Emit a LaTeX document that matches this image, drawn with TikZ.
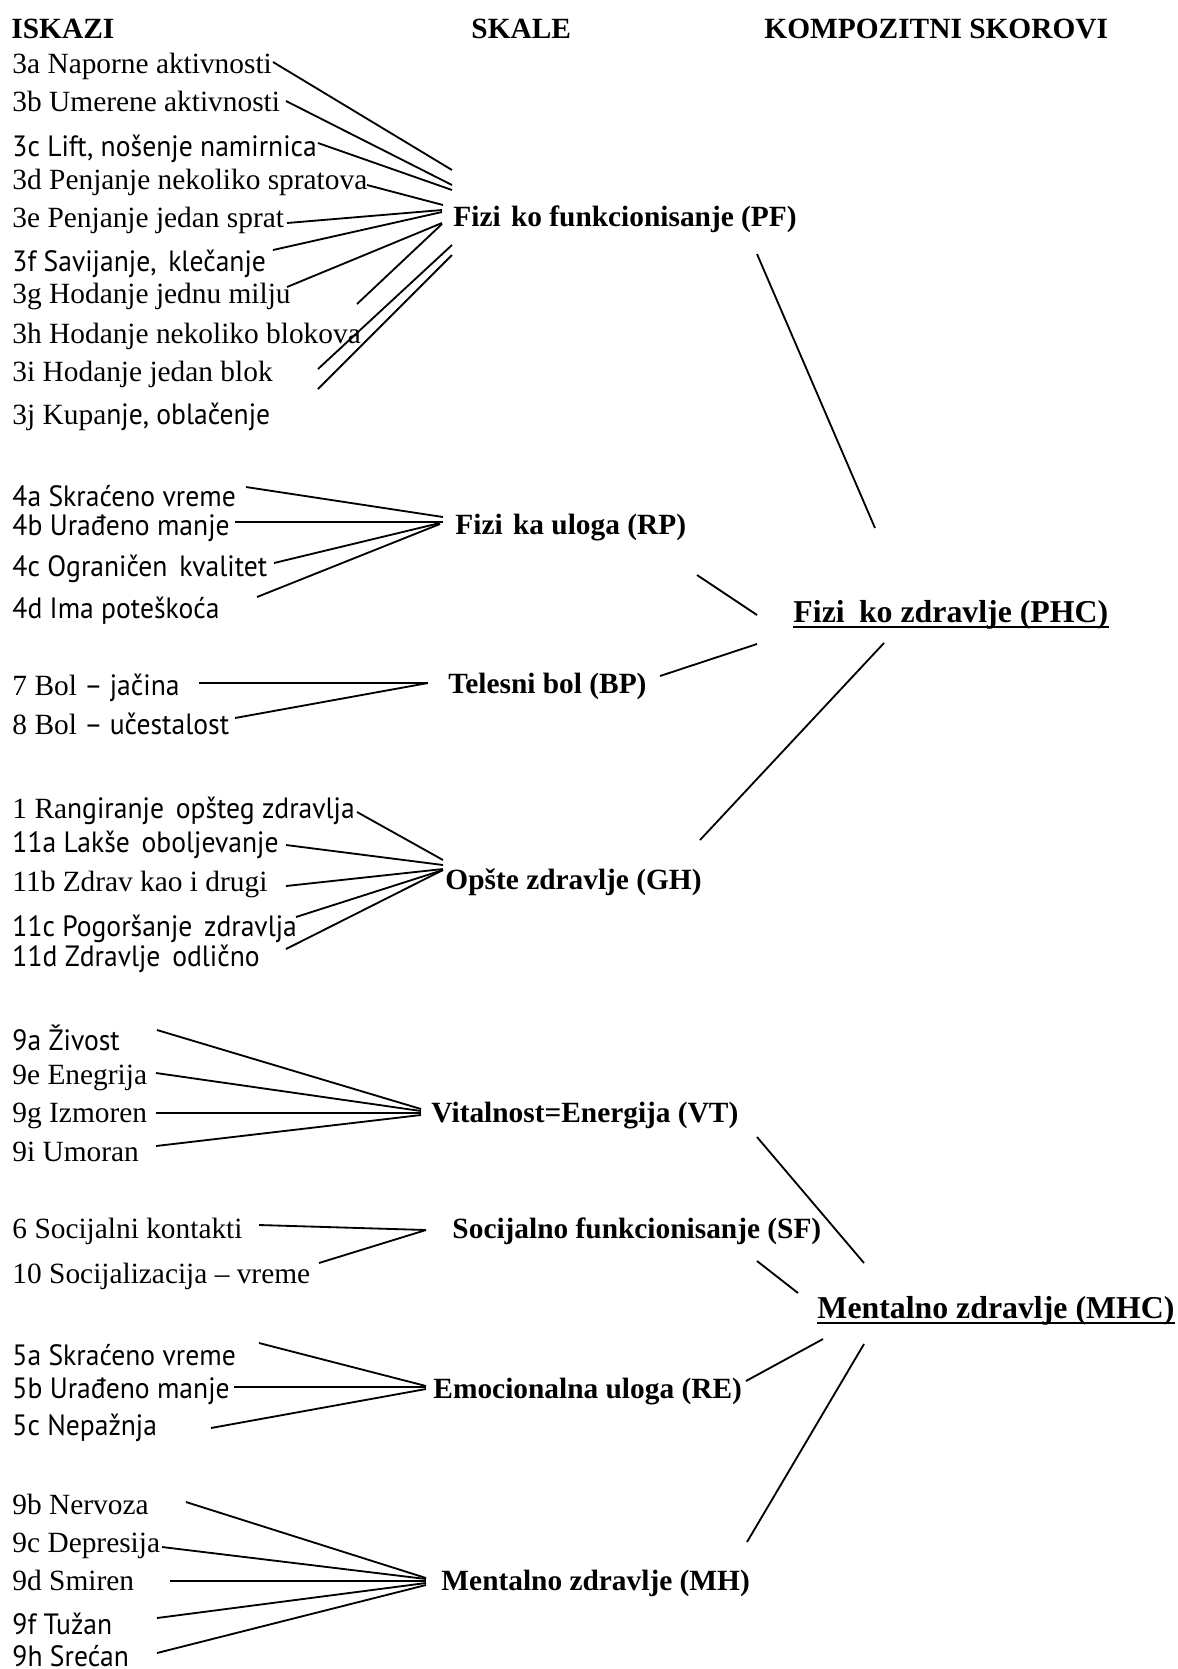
\documentclass[tikz,border=0pt]{standalone}
\usepackage{fontspec}
\setmainfont{Liberation Serif}
\newfontfamily\sn[FakeStretch=0.94]{PT Sans}
\newcommand\sv[1]{{\sn #1}}
\newcommand\wsp{\hspace{0.4em}}
\begin{document}
\begin{tikzpicture}[x={(0.4086pt,0)}, y={(0,-0.4086pt)}]
\tikzset{
  item/.style={anchor=base west, inner sep=0pt, yshift=-0.8pt, font=\fontsize{12}{14}\selectfont},
  sclab/.style={anchor=base west, inner sep=0pt, yshift=-0.8pt, font=\fontsize{12}{14}\selectfont\bfseries},
  comp/.style={anchor=base west, inner sep=0pt, font=\fontsize{13}{15}\selectfont\bfseries},
  conn/.style={line width=0.75pt},
  uline/.style={line width=1.1pt}
}
\fill[white] (0,0) rectangle (1177,1669);
\useasboundingbox (0,0) rectangle (1177,1669);

% headers
\node[sclab] (h1) at (11,37) {ISKAZI};
\node[sclab] (h2) at (471,37) {SKALE};
\node[sclab] (h3) at (764,37) {KOMPOZITNI SKOROVI};

% ---------- PF ----------
\node[item] (i3a) at (12,72) {3a Naporne aktivnosti};
\node[item] (i3b) at (12,110) {3b Umerene aktivnosti};
\node[item] (i3c) at (12,155) {\sv{3c Lift, nošenje namirnica}};
\node[item] (i3d) at (12,188) {3d Penjanje nekoliko spratova};
\node[item] (i3e) at (12,226) {3e Penjanje jedan sprat};
\node[item] (i3f) at (12,270) {\sv{3f Savijanje,\wsp klečanje}};
\node[item] (i3g) at (12,302) {3g Hodanje jednu milju};
\node[item] (i3h) at (12,342) {3h Hodanje nekoliko blokova};
\node[item] (i3i) at (12,380) {3i Hodanje jedan blok};
\node[item] (i3j) at (12,423) {3j Kupa\sv{nje, oblačenje}};
\node[sclab] (pf) at (453,225) {Fizi\hspace{0.35em}ko funkcionisanje (PF)};

\coordinate (a3a) at (273,62);  \coordinate (b3a) at (452,170);
\coordinate (a3b) at (286,101); \coordinate (b3b) at (452,185);
\coordinate (a3c) at (318,143); \coordinate (b3c) at (452,190);
\coordinate (a3d) at (367,185); \coordinate (b3d) at (443,205);
\coordinate (a3e) at (287,223); \coordinate (b3e) at (442,210);
\coordinate (a3f) at (273,250); \coordinate (b3f) at (442,212);
\coordinate (a3g) at (287,287); \coordinate (b3g) at (442,223);
\coordinate (a3h) at (357,304); \coordinate (b3h) at (442,224);
\coordinate (a3i) at (318,369); \coordinate (b3i) at (452,245);
\coordinate (a3j) at (318,389); \coordinate (b3j) at (452,255);
\foreach \k in {3a,3b,3c,3d,3e,3f,3g,3h,3i,3j} \draw[conn] (a\k) -- (b\k);

% ---------- RP ----------
\node[item] (i4a) at (12,505) {\sv{4a Skraćeno vreme}};
\node[item] (i4b) at (12,534) {\sv{4b Urađeno manje}};
\node[item] (i4c) at (12,575) {\sv{4c Ograničen\wsp kvalitet}};
\node[item] (i4d) at (12,617) {\sv{4d Ima poteškoća}};
\node[sclab] (rp) at (455,533) {Fizi\hspace{0.35em}ka uloga (RP)};
\coordinate (a4a) at (246,487); \coordinate (b4a) at (443,517);
\coordinate (a4b) at (235,522); \coordinate (b4b) at (443,522);
\coordinate (a4c) at (274,563); \coordinate (b4c) at (440,523);
\coordinate (a4d) at (257,597); \coordinate (b4d) at (440,524);
\foreach \k in {4a,4b,4c,4d} \draw[conn] (a\k) -- (b\k);

% ---------- BP ----------
\node[item] (i7) at (12,694) {7 Bol \sv{– jačina}};
\node[item] (i8) at (12,733) {8 Bol \sv{– učestalost}};
\node[sclab] (bp) at (448,692) {Telesni bol (BP)};
\coordinate (a7) at (199,683); \coordinate (b7) at (428,683);
\coordinate (a8) at (235,718); \coordinate (b8) at (428,683);
\foreach \k in {7,8} \draw[conn] (a\k) -- (b\k);

% ---------- GH ----------
\node[item] (i1) at (12,817) {1 Ra\sv{ngiranje\wsp opšteg zdravlja}};
\node[item] (i11a) at (12,851) {\sv{11a Lakše\wsp oboljevanje}};
\node[item] (i11b) at (12,890) {11b Zdrav kao i drugi};
\node[item] (i11c) at (12,935) {\sv{11c Pogoršanje\wsp zdravlja}};
\node[item] (i11d) at (12,965) {\sv{11d Zdravlje\wsp odlično}};
\node[sclab] (gh) at (445,888) {Opšte zdravlje (GH)};
\coordinate (a1) at (357,812);   \coordinate (b1) at (443,860);
\coordinate (a11a) at (286,845); \coordinate (b11a) at (443,865);
\coordinate (a11b) at (286,886); \coordinate (b11b) at (443,869);
\coordinate (a11c) at (296,917); \coordinate (b11c) at (443,870);
\coordinate (a11d) at (286,949); \coordinate (b11d) at (443,870);
\foreach \k in {1,11a,11b,11c,11d} \draw[conn] (a\k) -- (b\k);

% ---------- PHC ----------
\node[comp] (phc) at (793,622) {Fizi\hspace{0.45em}ko zdravlje (PHC)};
\draw[uline] ([yshift=-2pt]phc.base west) -- ([yshift=-2pt]phc.base east);
\coordinate (pfo) at (757,254); \coordinate (phi1) at (875,528);
\coordinate (rpo) at (697,575); \coordinate (phi2) at (757,615);
\coordinate (bpo) at (660,676); \coordinate (phi3) at (757,644);
\coordinate (gho) at (700,840); \coordinate (phi4) at (884,643);
\draw[conn] (pfo) -- (phi1);
\draw[conn] (rpo) -- (phi2);
\draw[conn] (bpo) -- (phi3);
\draw[conn] (gho) -- (phi4);

% ---------- VT ----------
\node[item] (i9a) at (12,1049) {\sv{9a Živost}};
\node[item] (i9e) at (12,1083) {9e Enegrija};
\node[item] (i9g) at (12,1121) {9g Izmoren};
\node[item] (i9i) at (12,1160) {9i Umoran};
\node[sclab] (vt) at (431,1121) {Vitalnost=Energija (VT)};
\coordinate (a9a) at (157,1030); \coordinate (b9a) at (421,1109);
\coordinate (a9e) at (156,1073); \coordinate (b9e) at (421,1111);
\coordinate (a9g) at (156,1113); \coordinate (b9g) at (421,1113);
\coordinate (a9i) at (156,1146); \coordinate (b9i) at (421,1115);
\foreach \k in {9a,9e,9g,9i} \draw[conn] (a\k) -- (b\k);

% ---------- SF ----------
\node[item] (i6) at (12,1237) {6 Socijalni kontakti};
\node[item] (i10) at (12,1282) {10 Socijalizacija – vreme};
\node[sclab] (sf) at (452,1237) {Socijalno funkcionisanje (SF)};
\coordinate (a6) at (259,1225);  \coordinate (b6) at (426,1230);
\coordinate (a10) at (319,1263); \coordinate (b10) at (426,1230);
\foreach \k in {6,10} \draw[conn] (a\k) -- (b\k);

% ---------- RE ----------
\node[item] (i5a) at (12,1364) {\sv{5a Skraćeno vreme}};
\node[item] (i5b) at (12,1397) {\sv{5b Urađeno manje}};
\node[item] (i5c) at (12,1434) {\sv{5c Nepažnja}};
\node[sclab] (re) at (433,1397) {Emocionalna uloga (RE)};
\coordinate (a5a) at (259,1343); \coordinate (b5a) at (426,1386);
\coordinate (a5b) at (234,1387); \coordinate (b5b) at (426,1387);
\coordinate (a5c) at (211,1428); \coordinate (b5c) at (426,1389);
\foreach \k in {5a,5b,5c} \draw[conn] (a\k) -- (b\k);

% ---------- MH ----------
\node[item] (i9b) at (12,1513) {9b Nervoza};
\node[item] (i9c) at (12,1551) {9c Depresija};
\node[item] (i9d) at (12,1589) {9d Smiren};
\node[item] (i9f) at (12,1633) {\sv{9f Tužan}};
\node[item] (i9h) at (12,1665) {\sv{9h Srećan}};
\node[sclab] (mh) at (441,1589) {Mentalno zdravlje (MH)};
\coordinate (a9b) at (186,1502); \coordinate (b9b) at (426,1578);
\coordinate (a9c) at (162,1547); \coordinate (b9c) at (426,1579);
\coordinate (a9d) at (170,1581); \coordinate (b9d) at (426,1581);
\coordinate (a9f) at (157,1618); \coordinate (b9f) at (426,1583);
\coordinate (a9h) at (157,1653); \coordinate (b9h) at (426,1585);
\foreach \k in {9b,9c,9d,9f,9h} \draw[conn] (a\k) -- (b\k);

% ---------- MHC ----------
\node[comp] (mhc) at (817,1318) {Mentalno zdravlje (MHC)};
\draw[uline] ([yshift=-2pt]mhc.base west) -- ([yshift=-2pt]mhc.base east);
\coordinate (vto) at (757,1137); \coordinate (mhi1) at (864,1263);
\coordinate (sfo) at (757,1261); \coordinate (mhi2) at (798,1293);
\coordinate (reo) at (746,1381); \coordinate (mhi3) at (823,1339);
\coordinate (mho) at (747,1542); \coordinate (mhi4) at (864,1344);
\draw[conn] (vto) -- (mhi1);
\draw[conn] (sfo) -- (mhi2);
\draw[conn] (reo) -- (mhi3);
\draw[conn] (mho) -- (mhi4);
\end{tikzpicture}
\end{document}
